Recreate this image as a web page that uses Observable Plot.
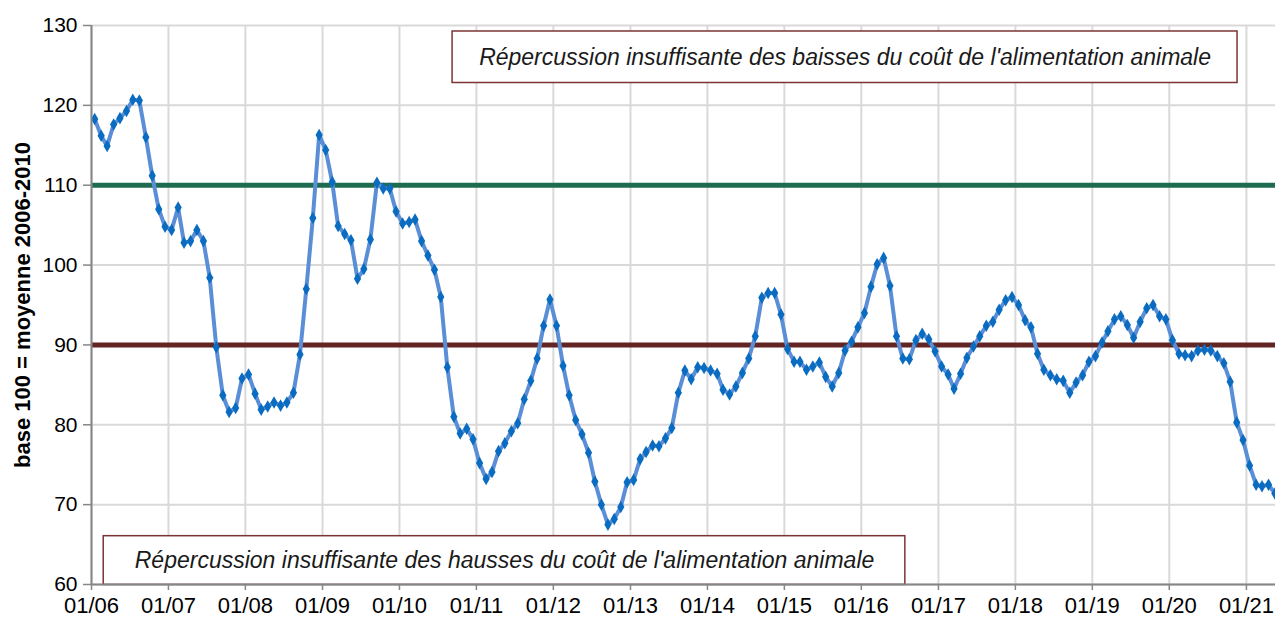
<!DOCTYPE html>
<html>
<head>
<meta charset="utf-8">
<script src="https://cdn.jsdelivr.net/npm/d3@7"></script>
<script src="https://cdn.jsdelivr.net/npm/@observablehq/plot@0.6"></script>
<style>
  html, body { margin: 0; padding: 0; background: #fff; }
  #chart svg { display: block; }
</style>
</head>
<body>
<div id="chart"></div>
<script>
// ---- Data (monthly index, base 100 = moyenne 2006-2010), from 01/2006 to 05/2021
const startYear = 2006;
const values = [
  118.3, 116.2, 114.9, 117.6, 118.4, 119.3, 120.7, 120.6, 116.0, 111.2, 107.0, 104.8,
  104.4, 107.2, 102.8, 103.0, 104.4, 103.0, 98.4, 89.7, 83.7, 81.6, 82.1, 85.8,
  86.3, 83.9, 81.9, 82.3, 82.8, 82.4, 82.8, 84.0, 88.8, 97.0, 105.9, 116.3,
  114.4, 110.4, 104.9, 103.9, 103.1, 98.3, 99.5, 103.2, 110.3, 109.6, 109.6, 106.7,
  105.2, 105.4, 105.7, 103.0, 101.2, 99.4, 96.0, 87.2, 81.0, 78.9, 79.5, 78.2,
  75.2, 73.2, 74.1, 76.7, 77.7, 79.2, 80.2, 83.2, 85.5, 88.3, 92.4, 95.7,
  92.4, 87.4, 83.7, 80.6, 78.8, 76.5, 72.9, 70.0, 67.5, 68.2, 69.7, 72.8,
  73.1, 75.7, 76.6, 77.4, 77.3, 78.3, 79.6, 84.0, 86.8, 85.7, 87.2, 87.1,
  86.8, 86.4, 84.4, 83.8, 84.8, 86.5, 88.3, 91.1, 95.9, 96.5, 96.5, 93.8,
  89.5, 87.9, 87.9, 86.9, 87.3, 87.8, 86.0, 84.8, 86.5, 89.3, 90.4, 92.2,
  94.0, 97.3, 100.1, 100.9, 97.4, 91.1, 88.3, 88.2, 90.6, 91.4, 90.7, 89.2,
  87.3, 86.3, 84.5, 86.4, 88.4, 89.8, 91.1, 92.4, 92.9, 94.4, 95.6, 96.0,
  95.0, 93.1, 92.2, 88.9, 86.9, 86.2, 85.7, 85.5, 84.0, 85.3, 86.2, 87.9,
  88.6, 90.3, 91.7, 93.2, 93.6, 92.5, 90.9, 92.9, 94.6, 95.0, 93.6, 93.2,
  90.6, 88.9, 88.7, 88.6, 89.3, 89.4, 89.3, 88.6, 87.7, 85.4, 80.3, 78.1,
  74.9, 72.5, 72.3, 72.5, 71.4
];
const yTicks = [60, 70, 80, 90, 100, 110, 120, 130];
const tickYears = [2006, 2007, 2008, 2009, 2010, 2011, 2012, 2013, 2014, 2015, 2016, 2017, 2018, 2019, 2020, 2021];
const thresholdHigh = 110;
const thresholdLow = 90;
const yLabel = "base 100 = moyenne 2006-2010";
const noteHigh = "Répercussion insuffisante des baisses du coût de l'alimentation animale";
const noteLow = "Répercussion insuffisante des hausses du coût de l'alimentation animale";

// ---- Derived table
const series = values.map((v, i) => ({ date: new Date(Date.UTC(startYear, i, 16)), value: v }));
const xTicks = tickYears.map(y => new Date(Date.UTC(y, 0, 1)));
const xStart = new Date(Date.UTC(2006, 0, 1));
const xEnd = new Date(Date.UTC(2021, 4, 19));

const notes = [
  { text: noteHigh, x1: new Date(Date.UTC(2010, 8, 10)), x2: new Date(Date.UTC(2020, 10, 20)), y1: 122.8, y2: 129.25 },
  { text: noteLow, x1: new Date(Date.UTC(2006, 1, 28)), x2: new Date(Date.UTC(2016, 6, 28)), y1: 59.95, y2: 66.05 }
];

const font = "'Liberation Sans', Arial, Helvetica, sans-serif";
const gridColor = "#d9d9d9";
const axisColor = "#868686";

const chart = Plot.plot({
  width: 1275,
  height: 626,
  marginLeft: 91,
  marginRight: 0,
  marginTop: 25,
  marginBottom: 42,
  style: { fontFamily: font, background: "#fff", color: "#000", overflow: "visible" },
  x: { type: "utc", domain: [xStart, xEnd] },
  y: { domain: [60, 130] },
  marks: [
    Plot.gridY(yTicks, { stroke: gridColor, strokeOpacity: 1, strokeWidth: 2 }),
    Plot.gridX(xTicks, { stroke: gridColor, strokeOpacity: 1, strokeWidth: 2 }),
    Plot.rect(notes, { x1: "x1", x2: "x2", y1: "y1", y2: "y2", fill: "#fff", stroke: "#7b3434", strokeWidth: 1.5 }),
    Plot.text(notes, {
      x: d => new Date((+d.x1 + +d.x2) / 2), y: d => (d.y1 + d.y2) / 2, text: "text",
      fontSize: 23, fontStyle: "italic", fill: "#1a1a1a"
    }),
    Plot.ruleY([thresholdHigh], { stroke: "#1f6b4f", strokeWidth: 5 }),
    Plot.ruleY([thresholdLow], { stroke: "#632523", strokeWidth: 5 }),
    Plot.line(series, { x: "date", y: "value", stroke: "#5a8fd8", strokeWidth: 4, strokeLinejoin: "round" }),
    Plot.dot(series, { x: "date", y: "value", symbol: "diamond", r: 3.8, fill: "#0a6cc0", stroke: "none" }),
    Plot.ruleX([xStart], { stroke: axisColor, strokeWidth: 2 }),
    Plot.ruleY([60], { stroke: axisColor, strokeWidth: 2 }),
    Plot.axisY({
      ticks: yTicks, tickSize: 8, tickPadding: 6, fontSize: 21, stroke: axisColor, strokeWidth: 1.5,
      label: null, tickFormat: d => d
    }),
    Plot.axisX({
      ticks: xTicks, tickSize: 6, tickPadding: 7, fontSize: 22, stroke: axisColor, strokeWidth: 1.5,
      label: null, tickFormat: d3.utcFormat("%m/%y")
    }),
    Plot.text([yLabel], {
      frameAnchor: "left", rotate: -90, dx: -69, textAnchor: "middle", text: d => d,
      fontSize: 22, fontWeight: "bold", fill: "#000"
    })
  ]
});

document.getElementById("chart").appendChild(chart);
</script>
</body>
</html>
